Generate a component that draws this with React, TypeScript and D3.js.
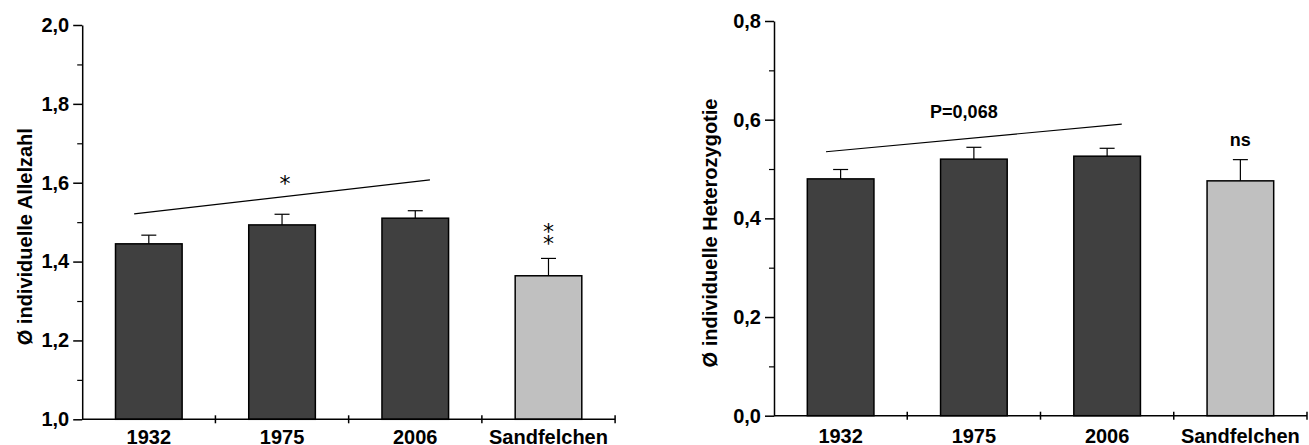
import React, { useEffect, useRef } from 'react';
import * as d3 from 'd3';

// categories + colours
const categories = ['1932', '1975', '2006', 'Sandfelchen'];
const barColors = ['#404040', '#404040', '#404040', '#c0c0c0'];

// left panel: mean individual allele number
const allelMeans = [1.445, 1.493, 1.51, 1.364];
const allelErrors = [0.022, 0.027, 0.019, 0.044];
const allelTicks = [1.0, 1.2, 1.4, 1.6, 1.8, 2.0];
const allelMinor = [1.1, 1.3, 1.5, 1.7, 1.9];
const allelTrend = [1.521, 1.607];

// right panel: mean individual heterozygosity
const hetMeans = [0.48, 0.52, 0.526, 0.476];
const hetErrors = [0.019, 0.024, 0.016, 0.043];
const hetTicks = [0.0, 0.2, 0.4, 0.6, 0.8];
const hetMinor = [0.1, 0.3, 0.5, 0.7];
const hetTrend = [0.535, 0.591];

const FONT = '"Liberation Sans", Arial, Helvetica, sans-serif';
const STAR_FONT = '"DejaVu Sans", sans-serif';
const deFormat = d3.formatLocale({ decimal: ',', thousands: '.', grouping: [3], currency: ['', ''] }).format('.1f');

type Panel = {
  left: number;
  right: number;
  top: number;
  bottom: number;
  domain: [number, number];
  ticks: number[];
  minor: number[];
  means: number[];
  errors: number[];
  trend: number[];
  label: string;
  labelX: number;
  labelY: number;
  xLabelDy: number;
  capWidth: number;
};

function drawPanel(svg: d3.Selection<SVGSVGElement, unknown, null, undefined>, p: Panel) {
  const x = d3.scaleBand<string>().domain(categories).range([p.left, p.right]).padding(0);
  const y = d3.scaleLinear().domain(p.domain).range([p.bottom, p.top]);
  const bw = x.bandwidth();
  const barW = bw * 0.5;
  const cx = (c: string) => (x(c) as number) + bw / 2;

  const g = svg.append('g');

  // bars
  g.selectAll('rect.bar')
    .data(categories)
    .join('rect')
    .attr('class', 'bar')
    .attr('x', (c) => cx(c) - barW / 2)
    .attr('width', barW)
    .attr('y', (c, i) => y(p.means[i]))
    .attr('height', (c, i) => y(p.domain[0]) - y(p.means[i]))
    .attr('fill', (c, i) => barColors[i])
    .attr('stroke', '#000')
    .attr('stroke-width', 1.5);

  // error bars (upper only)
  const err = g.selectAll('g.err').data(categories).join('g').attr('class', 'err');
  err.append('line')
    .attr('x1', (c) => cx(c)).attr('x2', (c) => cx(c))
    .attr('y1', (c, i) => y(p.means[i]))
    .attr('y2', (c, i) => y(p.means[i] + p.errors[i]))
    .attr('stroke', '#000').attr('stroke-width', 1.2);
  err.append('line')
    .attr('x1', (c) => cx(c) - p.capWidth / 2).attr('x2', (c) => cx(c) + p.capWidth / 2)
    .attr('y1', (c, i) => y(p.means[i] + p.errors[i]))
    .attr('y2', (c, i) => y(p.means[i] + p.errors[i]))
    .attr('stroke', '#000').attr('stroke-width', 1.2);

  // y axis
  const yAxis = g.append('g')
    .attr('transform', `translate(${p.left},0)`)
    .call(d3.axisLeft(y).tickValues(p.ticks).tickSize(9).tickSizeOuter(0).tickPadding(4).tickFormat((d) => deFormat(d as number)));
  yAxis.select('.domain').attr('stroke-width', 1.5);
  yAxis.selectAll('.tick line').attr('stroke-width', 1.5);
  yAxis.selectAll('.tick text')
    .attr('font-family', FONT).attr('font-weight', 'bold').attr('font-size', 20).attr('fill', '#000');

  const yMinor = g.append('g')
    .attr('transform', `translate(${p.left},0)`)
    .call(d3.axisLeft(y).tickValues(p.minor).tickSize(5).tickFormat(() => ''));
  yMinor.select('.domain').remove();
  yMinor.selectAll('.tick line').attr('stroke-width', 1.2);

  // x axis line + boundary ticks
  g.append('line')
    .attr('x1', p.left).attr('x2', p.right)
    .attr('y1', y(p.domain[0])).attr('y2', y(p.domain[0]))
    .attr('stroke', '#000').attr('stroke-width', 1.5);
  g.selectAll('line.xt')
    .data(categories)
    .join('line')
    .attr('class', 'xt')
    .attr('x1', (c) => (x(c) as number) + bw).attr('x2', (c) => (x(c) as number) + bw)
    .attr('y1', y(p.domain[0]) - 4).attr('y2', y(p.domain[0]) + 4)
    .attr('stroke', '#000').attr('stroke-width', 1.5);
  g.selectAll('text.xl')
    .data(categories)
    .join('text')
    .attr('class', 'xl')
    .attr('x', (c) => cx(c))
    .attr('y', y(p.domain[0]) + p.xLabelDy)
    .attr('text-anchor', 'middle')
    .attr('font-family', FONT).attr('font-weight', 'bold').attr('font-size', 20)
    .text((c) => c);

  // y label
  g.append('text')
    .attr('transform', `translate(${p.labelX},${p.labelY}) rotate(-90)`)
    .attr('text-anchor', 'middle')
    .attr('font-family', FONT).attr('font-weight', 'bold').attr('font-size', 20)
    .text(p.label);

  // trend line over 1932..2006
  const tx0 = cx(categories[0]) - bw * 0.11;
  const tx1 = cx(categories[2]) + bw * 0.11;
  g.append('line')
    .attr('x1', tx0).attr('y1', y(p.trend[0]))
    .attr('x2', tx1).attr('y2', y(p.trend[1]))
    .attr('stroke', '#000').attr('stroke-width', 1.2);

  // y of the trend line at a given x
  const trendAt = (px: number) => y(p.trend[0]) + ((px - tx0) / (tx1 - tx0)) * (y(p.trend[1]) - y(p.trend[0]));

  return { x, y, cx, trendAt };
}

export default function App() {
  const ref = useRef<SVGSVGElement>(null);

  useEffect(() => {
    const svg = d3.select(ref.current as SVGSVGElement);
    svg.selectAll('*').remove();

    const a = drawPanel(svg, {
      left: 82.2, right: 615.1, top: 25, bottom: 419.3,
      domain: [1.0, 2.0], ticks: allelTicks, minor: allelMinor,
      means: allelMeans, errors: allelErrors, trend: allelTrend,
      label: 'Ø individuelle Allelzahl', labelX: 32, labelY: 236.7,
      xLabelDy: 25, capWidth: 15,
    });
    // significance marks (left)
    const starX = a.cx('1975') + 3;
    svg.append('text')
      .attr('x', starX).attr('y', a.trendAt(starX) - 6)
      .attr('text-anchor', 'middle')
      .attr('font-family', STAR_FONT).attr('font-size', 22)
      .text('*');
    const sx = a.cx('Sandfelchen');
    const sTop = a.y(allelMeans[3] + allelErrors[3]);
    const dbl = svg.append('text')
      .attr('text-anchor', 'middle')
      .attr('font-family', STAR_FONT).attr('font-size', 22);
    dbl.append('tspan').attr('x', sx).attr('y', sTop - 19.8).text('*');
    dbl.append('tspan').attr('x', sx).attr('y', sTop - 7.3).text('*');

    const b = drawPanel(svg, {
      left: 774, right: 1307, top: 21, bottom: 415.7,
      domain: [0, 0.8], ticks: hetTicks, minor: hetMinor,
      means: hetMeans, errors: hetErrors, trend: hetTrend,
      label: 'Ø individuelle Heterozygotie', labelX: 717, labelY: 233,
      xLabelDy: 27, capWidth: 15,
    });
    const px = b.cx('1975') - 10;
    svg.append('text')
      .attr('x', px).attr('y', b.trendAt(px) - 21)
      .attr('text-anchor', 'middle')
      .attr('font-family', FONT).attr('font-weight', 'bold').attr('font-size', 18)
      .text('P=0,068');
    svg.append('text')
      .attr('x', b.cx('Sandfelchen')).attr('y', b.y(hetMeans[3] + hetErrors[3]) - 14)
      .attr('text-anchor', 'middle')
      .attr('font-family', FONT).attr('font-weight', 'bold').attr('font-size', 18)
      .text('ns');
  }, []);

  return (
    <div style={{ position: 'absolute', left: 0, top: 0, background: '#fff' }}>
      <svg ref={ref} width={1309} height={445} style={{ display: 'block' }} />
    </div>
  );
}
